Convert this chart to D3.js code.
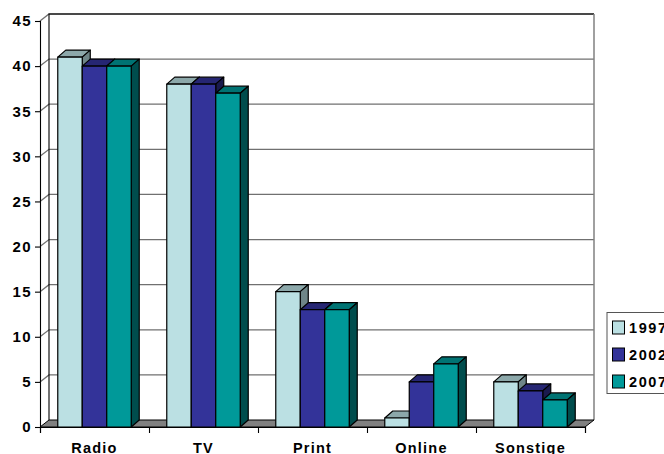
<!DOCTYPE html>
<html>
<head>
<meta charset="utf-8">
<script src="https://cdn.jsdelivr.net/npm/d3@7"></script>
<style>
  html, body { margin: 0; padding: 0; background: #fff; overflow: hidden; }
  svg { display: block; font-family: "Liberation Sans", Arial, sans-serif; font-weight: bold; }
</style>
</head>
<body>
<div id="plot"></div>
<script>
const categories = ['Radio', 'TV', 'Print', 'Online', 'Sonstige'];
const years = ['1997', '2002', '2007'];
const values1997 = [41, 38, 15, 1, 5];
const values2002 = [40, 38, 13, 5, 4];
const values2007 = [40, 37, 13, 7, 3];
const yTicks = [0, 5, 10, 15, 20, 25, 30, 35, 40, 45];

const seriesValues = [values1997, values2002, values2007];
const colors = ['#bbe0e3', '#333399', '#009999'];
const topColors = ['#8ca8aa', '#262673', '#007373'];
const sideColors = ['#6f8688', '#1a1a4d', '#004d4d'];

const width = 664, height = 454;
const margin = {top: 21, left: 40, bottom: 27, right: 79};
const wallDx = 9, wallDy = -7;   // offset of the back wall
const barDx = 8, barDy = -7;     // depth of each bar

const svg = d3.select('#plot').append('svg')
    .attr('width', width)
    .attr('height', height);

const x = d3.scaleBand()
    .domain(categories)
    .range([margin.left, width - margin.right])
    .paddingInner(0.326)
    .paddingOuter(0.163);

const xSeries = d3.scaleBand()
    .domain(years)
    .range([0, x.bandwidth()]);

const xTicks = d3.scaleLinear()
    .domain([0, categories.length])
    .range(x.range());

const y = d3.scaleLinear()
    .domain([0, 45])
    .range([height - margin.bottom, margin.top]);

const x0 = x.range()[0], x1 = x.range()[1], y0 = y(0), yTop = y(45);

// back wall
svg.append('rect')
    .attr('x', x0 + wallDx)
    .attr('y', yTop + wallDy)
    .attr('width', x1 - x0)
    .attr('height', y0 - yTop)
    .attr('fill', '#fff');

// gridlines run along the side wall, then across the back wall
svg.append('g').selectAll('path')
    .data(yTicks.filter(d => d > 0))
    .enter()
    .append('path')
    .attr('d', d => `M${x0},${y(d)}L${x0 + wallDx},${y(d) + wallDy}L${x1 + wallDx},${y(d) + wallDy}`)
    .attr('fill', 'none')
    .attr('stroke', '#707070')
    .attr('stroke-width', 1.3);

svg.append('path')
    .attr('d', `M${x0 + wallDx},${y0 + wallDy}V${yTop + wallDy}H${x1 + wallDx}`)
    .attr('fill', 'none')
    .attr('stroke', '#000')
    .attr('stroke-width', 1.1);

svg.append('path')
    .attr('d', `M${x1 + wallDx},${yTop + wallDy}V${y0 + wallDy}`)
    .attr('stroke', '#808080')
    .attr('stroke-width', 1.5);

// floor
svg.append('path')
    .attr('d', `M${x0},${y0}L${x0 + wallDx},${y0 + wallDy}H${x1 + wallDx}L${x1},${y0}Z`)
    .attr('fill', '#808080')
    .attr('stroke', '#000')
    .attr('stroke-width', 1);

// bars, each with a front, a top and a side face
const rows = [];
categories.forEach((c, i) => {
    years.forEach((yr, j) => {
        rows.push({category: c, year: yr, s: j, value: seriesValues[j][i]});
    });
});

const bars = svg.append('g').selectAll('g')
    .data(rows)
    .enter()
    .append('g')
    .attr('stroke', '#000')
    .attr('stroke-width', 1.2)
    .attr('stroke-linejoin', 'round');

const left = d => x(d.category) + xSeries(d.year);
const right = d => left(d) + xSeries.bandwidth();

bars.append('path')
    .attr('fill', d => topColors[d.s])
    .attr('d', d => `M${left(d)},${y(d.value)}l${barDx},${barDy}H${right(d) + barDx}L${right(d)},${y(d.value)}Z`);

bars.append('path')
    .attr('fill', d => sideColors[d.s])
    .attr('d', d => `M${right(d)},${y(d.value)}l${barDx},${barDy}V${y0 + barDy}L${right(d)},${y0}Z`);

bars.append('rect')
    .attr('x', left)
    .attr('y', d => y(d.value))
    .attr('width', xSeries.bandwidth())
    .attr('height', d => y0 - y(d.value))
    .attr('fill', d => colors[d.s]);

// axes
const yAxis = svg.append('g')
    .attr('transform', `translate(${x0},0)`)
    .call(d3.axisLeft(y).tickValues(yTicks).tickSize(5).tickPadding(3));

const xAxis = svg.append('g')
    .attr('transform', `translate(0,${y0})`)
    .call(d3.axisBottom(xTicks).ticks(categories.length).tickSize(6).tickFormat(''));

svg.selectAll('.domain').attr('stroke', '#000').attr('stroke-width', 1.1);
svg.selectAll('.tick line').attr('stroke', '#000').attr('stroke-width', 1.1);

yAxis.selectAll('text')
    .attr('font-family', '"Liberation Sans", Arial, sans-serif')
    .attr('font-weight', 'bold')
    .attr('font-size', 15)
    .attr('letter-spacing', 1.4)
    .attr('fill', '#000');

svg.append('g').selectAll('text')
    .data(categories)
    .enter()
    .append('text')
    .attr('x', d => x(d) + x.bandwidth() / 2)
    .attr('y', 453)
    .attr('text-anchor', 'middle')
    .attr('font-size', 14.5)
    .attr('letter-spacing', 1.2)
    .text(d => d);

// legend
const legend = svg.append('g').attr('transform', 'translate(607,312.5)');

legend.append('rect')
    .attr('width', 80)
    .attr('height', 81)
    .attr('fill', '#fff')
    .attr('stroke', '#555')
    .attr('stroke-width', 1);

const legendY = d3.scalePoint()
    .domain(years)
    .range([15, 69]);

legend.selectAll('rect.swatch')
    .data(years)
    .enter()
    .append('rect')
    .attr('class', 'swatch')
    .attr('x', 5.5)
    .attr('y', d => legendY(d) - 6.5)
    .attr('width', 12)
    .attr('height', 13)
    .attr('fill', (d, i) => colors[i])
    .attr('stroke', '#000')
    .attr('stroke-width', 1);

legend.selectAll('text')
    .data(years)
    .enter()
    .append('text')
    .attr('x', 22)
    .attr('y', d => legendY(d) + 5.5)
    .attr('font-size', 14.5)
    .attr('letter-spacing', 1.6)
    .text(d => d);
</script>
</body>
</html>
